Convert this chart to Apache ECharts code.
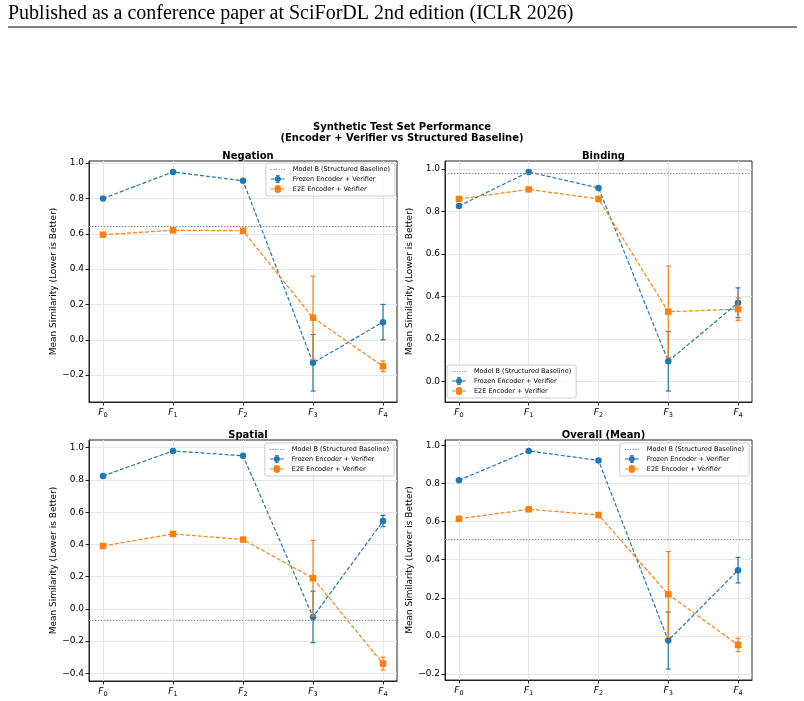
<!DOCTYPE html>
<html>
<head>
<meta charset="utf-8">
<script src="https://cdn.jsdelivr.net/npm/echarts@6/dist/echarts.min.js"></script>
<style>
 html, body { margin: 0; padding: 0; background: #fff; }
 #main { width: 804px; height: 701px; }
</style>
</head>
<body>
<div id="main"></div>
<script>
var chart = echarts.init(document.getElementById('main'), null, { renderer: 'canvas' });

// x positions F0..F4
var steps = [0, 1, 2, 3, 4];

// Negation
var negFrozen = [0.80, 0.95, 0.90, -0.13, 0.10];
var negFrozenErr = [0, 0, 0, 0.16, 0.10];
var negE2E = [0.595, 0.62, 0.617, 0.125, -0.15];
var negE2EErr = [0, 0, 0, 0.235, 0.03];
var negBase = 0.635;
var negTicks = [-0.2, 0, 0.2, 0.4, 0.6, 0.8, 1.0];

// Binding
var binFrozen = [0.825, 0.985, 0.91, 0.095, 0.37];
var binFrozenErr = [0, 0, 0, 0.14, 0.07];
var binE2E = [0.858, 0.903, 0.858, 0.328, 0.34];
var binE2EErr = [0, 0, 0, 0.215, 0.053];
var binBase = 0.98;
var binTicks = [0, 0.2, 0.4, 0.6, 0.8, 1.0];

// Spatial
var spaFrozen = [0.825, 0.98, 0.95, -0.05, 0.545];
var spaFrozenErr = [0, 0, 0, 0.16, 0.035];
var spaE2E = [0.39, 0.465, 0.43, 0.19, -0.34];
var spaE2EErr = [0, 0, 0, 0.235, 0.04];
var spaBase = -0.075;
var spaTicks = [-0.4, -0.2, 0, 0.2, 0.4, 0.6, 0.8, 1.0];

// Overall (Mean)
var allFrozen = [0.818, 0.972, 0.922, -0.025, 0.345];
var allFrozenErr = [0, 0, 0, 0.15, 0.067];
var allE2E = [0.615, 0.665, 0.635, 0.218, -0.048];
var allE2EErr = [0, 0, 0, 0.225, 0.035];
var allBase = 0.51;
var allTicks = [-0.2, 0, 0.2, 0.4, 0.6, 0.8, 1.0];

var BLUE = '#1f77b4', ORANGE = '#ff7f0e', GRAY = '#8c8c8c';
var FONT = 'DejaVu Sans';
var NAME_BASE = 'Model B (Structured Baseline)';
var NAME_FROZEN = 'Frozen Encoder + Verifier';
var NAME_E2E = 'E2E Encoder + Verifier';

var panels = [
 { title: 'Negation', frozen: negFrozen, frozenErr: negFrozenErr, e2e: negE2E, e2eErr: negE2EErr, base: negBase, ticks: negTicks,
   grid: { left: 89, top: 161, width: 308, height: 241 }, legend: { right: 409, top: 163 } },
 { title: 'Binding', frozen: binFrozen, frozenErr: binFrozenErr, e2e: binE2E, e2eErr: binE2EErr, base: binBase, ticks: binTicks,
   grid: { left: 445, top: 161, width: 307, height: 241 }, legend: { left: 447, bottom: 303 } },
 { title: 'Spatial', frozen: spaFrozen, frozenErr: spaFrozenErr, e2e: spaE2E, e2eErr: spaE2EErr, base: spaBase, ticks: spaTicks,
   grid: { left: 89, top: 440, width: 308, height: 241 }, legend: { right: 410, top: 443 } },
 { title: 'Overall (Mean)', frozen: allFrozen, frozenErr: allFrozenErr, e2e: allE2E, e2eErr: allE2EErr, base: allBase, ticks: allTicks,
   grid: { left: 445, top: 440, width: 307, height: 240 }, legend: { right: 55, top: 443 } }
];

// matplotlib-like autoscale with 5% margins
function yRange(p) {
 var lo = p.base, hi = p.base;
 for (var i = 0; i < steps.length; i++) {
  lo = Math.min(lo, p.frozen[i] - p.frozenErr[i], p.e2e[i] - p.e2eErr[i]);
  hi = Math.max(hi, p.frozen[i] + p.frozenErr[i], p.e2e[i] + p.e2eErr[i]);
 }
 var m = (hi - lo) * 0.05;
 return [lo - m, hi + m];
}

function fmtY(v) {
 var s = Math.abs(v).toFixed(1);
 return (v < -1e-9 ? '\u2212' : '') + s;
}

function errRender(color) {
 return function (params, api) {
  var x = api.value(0), m = api.value(1), e = api.value(2);
  if (!e) return null;
  var top = api.coord([x, m + e]), bot = api.coord([x, m - e]);
  var st = { stroke: color, lineWidth: 1.2 };
  return {
   type: 'group',
   children: [
    { type: 'line', shape: { x1: top[0], y1: top[1], x2: bot[0], y2: bot[1] }, style: st },
    { type: 'line', shape: { x1: top[0] - 2.5, y1: top[1], x2: top[0] + 2.5, y2: top[1] }, style: st },
    { type: 'line', shape: { x1: bot[0] - 2.5, y1: bot[1], x2: bot[0] + 2.5, y2: bot[1] }, style: st }
   ]
  };
 };
}

// legend icons
var iconDots = 'path://M0,0H1.2V0.9H0Z M2.5,0H3.7V0.9H2.5Z M5,0H6.2V0.9H5Z M7.5,0H8.7V0.9H7.5Z M10,0H11.2V0.9H10Z M12.5,0H13.7V0.9H12.5Z';
var iconCircle = 'path://M0,3.4H14V4.6H0Z M6.4,0H7.6V8H6.4Z M5,0H9V0.8H5Z M5,7.2H9V8H5Z M4,4a3,3 0 1,1 6,0a3,3 0 1,1 -6,0Z';
var iconSquare = 'path://M0,3.4H14V4.6H0Z M6.4,0H7.6V8H6.4Z M5,0H9V0.8H5Z M5,7.2H9V8H5Z M4,1H10V7H4Z';

var grids = [], xAxes = [], yAxes = [], series = [], titles = [], legends = [];

titles.push({
 text: 'Synthetic Test Set Performance\n(Encoder + Verifier vs Structured Baseline)',
 left: 'center', top: 117,
 textStyle: { fontFamily: FONT, fontSize: 10, fontWeight: 'bold', color: '#000', lineHeight: 11 }
});

panels.forEach(function (p, k) {
 var r = yRange(p);
 grids.push(Object.assign({ show: true, borderColor: '#222', borderWidth: 1, backgroundColor: '#fff' }, p.grid));
 titles.push({
  text: p.title,
  left: p.grid.left + p.grid.width / 2, textAlign: 'center',
  top: p.grid.top - 15,
  textStyle: { fontFamily: FONT, fontSize: 10, fontWeight: 'bold', color: '#000' }
 });
 xAxes.push({
  type: 'value', gridIndex: k, min: -0.2, max: 4.2,
  axisLine: { show: true, onZero: false, lineStyle: { color: '#222', width: 1 } },
  axisTick: { show: true, length: 3.5, customValues: steps, lineStyle: { color: '#222', width: 1 } },
  splitLine: { show: true, lineStyle: { color: '#e6e6e6', width: 1 } },
  axisLabel: {
   customValues: steps, margin: 5,
   formatter: function (v) { return '{f|F}{s|' + v + '}'; },
   rich: {
    f: { fontFamily: FONT, fontStyle: 'italic', fontSize: 9, color: '#000' },
    s: { fontFamily: FONT, fontSize: 6.5, color: '#000', padding: [5, 0, 0, 0] }
   }
  }
 });
 yAxes.push({
  type: 'value', gridIndex: k, min: r[0], max: r[1],
  name: 'Mean Similarity (Lower is Better)', nameLocation: 'middle', nameGap: 31,
  nameTextStyle: { fontFamily: FONT, fontSize: 9, color: '#000' },
  axisLine: { show: true, onZero: false, lineStyle: { color: '#222', width: 1 } },
  axisTick: { show: true, length: 3.5, customValues: p.ticks, lineStyle: { color: '#222', width: 1 } },
  splitLine: { show: true, lineStyle: { color: '#e6e6e6', width: 1 } },
  axisLabel: { customValues: p.ticks, formatter: fmtY, fontFamily: FONT, fontSize: 9, color: '#000', margin: 5 }
 });

 series.push({
  name: NAME_BASE, type: 'line', xAxisIndex: k, yAxisIndex: k, data: [],
  color: GRAY,
  markLine: {
   silent: true, symbol: 'none', label: { show: false },
   lineStyle: { color: GRAY, type: [1.5, 1.5], width: 1 },
   data: [{ yAxis: p.base }]
  }
 });

 [[NAME_FROZEN, p.frozen, p.frozenErr, BLUE, 'circle', 6.5],
  [NAME_E2E, p.e2e, p.e2eErr, ORANGE, 'rect', 6.5]].forEach(function (s, j) {
  series.push({
   name: s[0], type: 'line', xAxisIndex: k, yAxisIndex: k,
   data: steps.map(function (x, i) { return [x, s[1][i]]; }),
   color: s[3], symbol: s[4], symbolSize: s[5], showAllSymbol: true,
   itemStyle: { color: s[3], borderWidth: 0 },
   lineStyle: { color: s[3], width: 1.2, type: [4, 2] },
   z: 3 + j * 2
  });
  series.push({
   name: 'err' + k + '_' + j, type: 'custom', xAxisIndex: k, yAxisIndex: k,
   renderItem: errRender(s[3]),
   data: steps.map(function (x, i) { return [x, s[1][i], s[2][i]]; }),
   z: 3 + j * 2, silent: true
  });
 });

 legends.push(Object.assign({
  orient: 'vertical', itemWidth: 14, itemHeight: 8, itemGap: 2,
  backgroundColor: 'rgba(255,255,255,0.8)', borderColor: '#cccccc', borderWidth: 1, borderRadius: 2,
  padding: [3, 5, 3, 5], selectedMode: false,
  itemStyle: { borderWidth: 0 },
  textStyle: { fontFamily: FONT, fontSize: 6.5, color: '#000', padding: [0, 0, 0, 3] },
  data: [
   { name: NAME_BASE, icon: iconDots },
   { name: NAME_FROZEN, icon: iconCircle },
   { name: NAME_E2E, icon: iconSquare }
  ]
 }, p.legend));
});

var option = {
 backgroundColor: '#fff',
 animation: false,
 title: titles,
 grid: grids,
 xAxis: xAxes,
 yAxis: yAxes,
 legend: legends,
 series: series,
 graphic: [
  { type: 'text', left: 8, top: 4, style: { text: 'Published as a conference paper at SciForDL 2nd edition (ICLR 2026)', fontFamily: 'Liberation Serif', fontSize: 20, fill: '#000' } },
  { type: 'line', shape: { x1: 8, y1: 27, x2: 797, y2: 27 }, style: { stroke: '#000', lineWidth: 1 } }
 ]
};
chart.setOption(option);
</script>
</body>
</html>
